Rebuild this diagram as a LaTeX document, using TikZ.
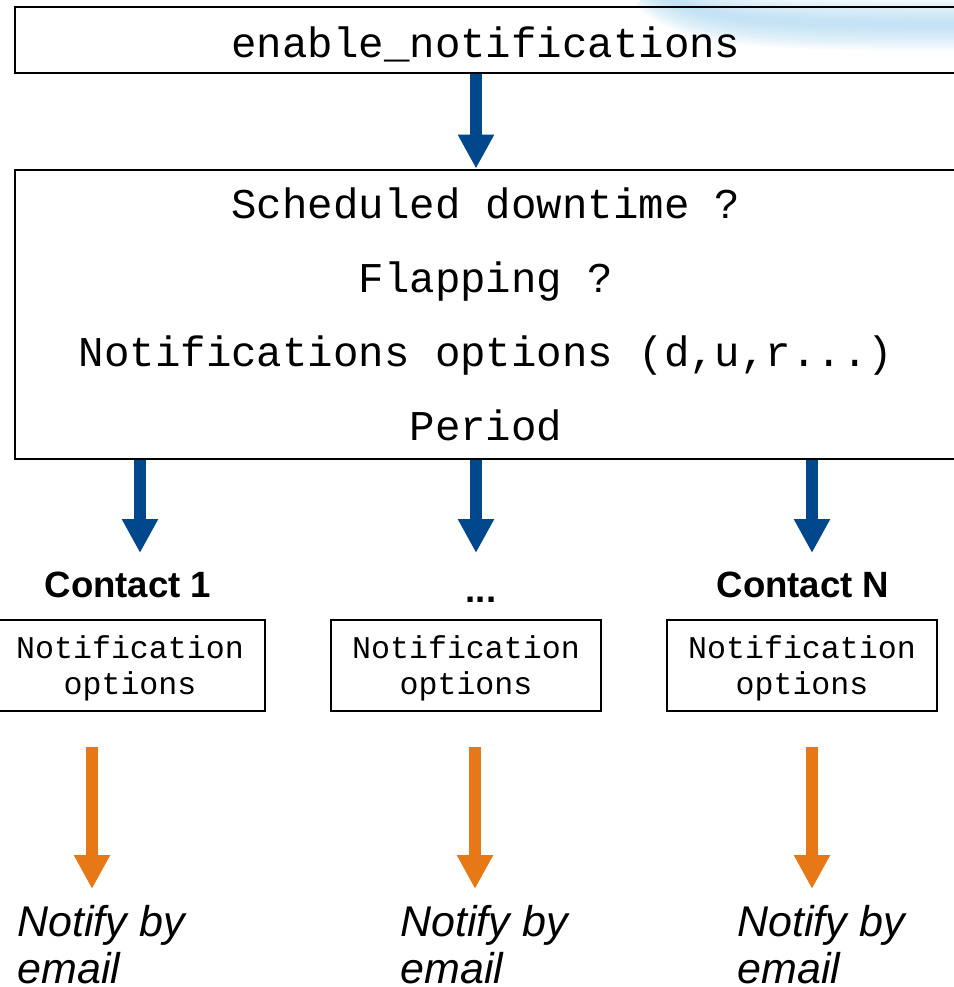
\documentclass[tikz,border=0pt]{standalone}
\usepackage{fontspec}
\setmainfont{Liberation Sans}
\setmonofont{Liberation Mono}
\usetikzlibrary{arrows.meta}

\begin{document}
\begin{tikzpicture}[x=0.5pt,y=-0.5pt,
    checkbox/.style={draw=black, line width=1.4pt, minimum width=471pt, align=center,
      font=\ttfamily\fontsize{21.2}{37}\selectfont},
    optbox/.style={draw=black, line width=1pt, minimum width=135pt, minimum height=45.5pt,
      align=center, text depth=-2.3pt, font=\ttfamily\fontsize{15.8}{18}\selectfont},
    contact/.style={anchor=base, inner sep=0pt, font=\bfseries\fontsize{18.3}{22}\selectfont},
    notify/.style={anchor=north west, inner sep=0pt, align=left,
      font=\itshape\fontsize{21.5}{23.5}\selectfont},
    bluearrow/.style={flowblue, line width=6pt, -{Triangle[width=17pt,length=17pt]}},
    orangearrow/.style={floworange, line width=6pt, -{Triangle[width=17pt,length=17pt]}}]
  \definecolor{flowblue}{RGB}{0,71,139}
  \definecolor{floworange}{RGB}{230,120,22}
  \definecolor{swoosh}{RGB}{150,205,235}

  \useasboundingbox (0,0) rectangle (954,987);

  % faint swoosh in the corner
  \foreach \w in {52,47,...,3}
  {
    \draw[swoosh, opacity=0.08, line width=\w*0.5pt] (652,-14) .. controls (690,18) and (730,26) .. (1000,24);
  }

  \node[checkbox, minimum height=33pt, text height=17pt, text depth=0pt] (enable) at (486,40) {enable\_notifications};
  \node[checkbox, minimum height=144.5pt] (check) at (486,314.5)
    {Scheduled downtime ?\\Flapping ?\\Notifications options (d,u,r...)\\Period};

  \draw[bluearrow] ([xshift=-5pt]enable.south) -- ([xshift=-5pt]check.north);

  \node[contact] (contact1) at (128,597) {Contact 1};
  \node[contact] (contactdots) at (481,602) {...};
  \node[contact] (contactN) at (803,597) {Contact N};

  \foreach \i/\ax/\bx/\mx in {1/140/130/17, 2/476/466/400, 3/812/802/737}
  {
    \coordinate (tip\i) at (\ax,553);
    \draw[bluearrow] (check.south -| tip\i) -- (tip\i);
    \node[optbox] (opt\i) at (\bx,665.5) {Notification\\options};
    \node[notify] (mail\i) at (\mx,905) {Notify by\\email};
    \coordinate (end\i) at (\mx+75,889);
    \draw[orangearrow, shorten <=17.5pt] (opt\i.south -| end\i) -- (end\i);
  }
\end{tikzpicture}
\end{document}
